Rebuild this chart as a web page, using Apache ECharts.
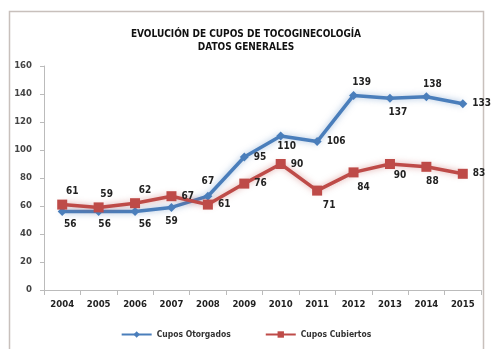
<!DOCTYPE html>
<html>
<head>
<meta charset="utf-8">
<script src="https://cdn.jsdelivr.net/npm/echarts@6/dist/echarts.min.js"></script>
<style>
  html, body { margin: 0; padding: 0; background: #fff; }
  #chart { width: 492px; height: 349px; }
</style>
</head>
<body>
<div id="chart"></div>
<script>
// Years on the horizontal axis
const years = ['2004', '2005', '2006', '2007', '2008', '2009', '2010', '2011', '2012', '2013', '2014', '2015'];
// Places granted per year
const otorgados = [56, 56, 56, 59, 67, 95, 110, 106, 139, 137, 138, 133];
// Places filled per year
const cubiertos = [61, 59, 62, 67, 61, 76, 90, 71, 84, 90, 88, 83];
// Label placement per point
const posOtorgados = ['bottom', 'bottom', 'bottom', 'bottom', 'top', 'right', 'bottom', 'right', 'top', 'bottom', 'top', 'right'];
const posCubiertos = ['top', 'top', 'top', 'right', 'right', 'right', 'right', 'bottom', 'bottom', 'bottom', 'bottom', 'right'];
const offOtorgados = [[8, -2], [6, -2], [10, -2], [0, 0], [0, 0], [0, 0], [6, -4], [0, 0], [8, 2], [8, 0], [6, 2], [0, 0]];
const offCubiertos = [[10, 2], [8, 2], [10, 2], [0, 0], [0, 0], [0, 0], [0, 0], [12, 0], [10, 0], [10, -4], [6, 0], [0, 0]];

const labelFont = { fontFamily: 'DejaVu Sans Condensed, Liberation Sans, sans-serif', fontWeight: 'bold', fontSize: 10, color: '#222' };

function withLabels(values, positions, offsets) {
  return values.map((v, i) => ({
    value: v,
    label: { position: positions[i], offset: offsets[i] }
  }));
}

const chart = echarts.init(document.getElementById('chart'));
chart.setOption({
  backgroundColor: '#fff',
  animation: false,
  title: {
    text: 'EVOLUCIÓN DE CUPOS DE TOCOGINECOLOGÍA\nDATOS GENERALES',
    left: 'center',
    top: 23,
    textStyle: {
      fontFamily: 'DejaVu Sans Condensed, Liberation Sans, sans-serif',
      fontSize: 10, fontWeight: 'bold', color: '#111', lineHeight: 13
    }
  },
  grid: { left: 44, right: 11, top: 66, bottom: 59 },
  xAxis: {
    type: 'category',
    data: years,
    boundaryGap: true,
    axisLine: { lineStyle: { color: '#bbb', width: 1 } },
    axisTick: { show: true, length: 5, lineStyle: { color: '#bbb' } },
    axisLabel: { ...labelFont, fontSize: 9.5, margin: 10 }
  },
  yAxis: {
    type: 'value',
    min: 0, max: 160, interval: 20,
    axisLine: { show: true, lineStyle: { color: '#bbb' } },
    axisTick: { show: true, length: 4, lineStyle: { color: '#bbb' } },
    splitLine: { show: false },
    axisLabel: { ...labelFont, fontSize: 9.5, color: '#444', margin: 12 }
  },
  legend: {
    bottom: 5,
    left: 'center',
    itemGap: 34,
    itemWidth: 30,
    itemHeight: 8,
    textStyle: { ...labelFont, fontSize: 8.5, color: '#333' },
    data: ['Cupos Otorgados', 'Cupos Cubiertos']
  },
  series: [
    {
      name: 'Cupos Otorgados',
      type: 'line',
      data: withLabels(otorgados, posOtorgados, offOtorgados),
      symbol: 'diamond',
      symbolSize: 9,
      itemStyle: { color: '#4A7EBB' },
      lineStyle: { width: 3.5, color: '#4A7EBB', shadowColor: 'rgba(74,126,187,0.5)', shadowBlur: 6 },
      label: { show: true, distance: 5, ...labelFont }
    },
    {
      name: 'Cupos Cubiertos',
      type: 'line',
      data: withLabels(cubiertos, posCubiertos, offCubiertos),
      symbol: 'rect',
      symbolSize: 10,
      itemStyle: { color: '#BE4B48' },
      lineStyle: { width: 3.5, color: '#BE4B48', shadowColor: 'rgba(190,75,72,0.5)', shadowBlur: 6 },
      label: { show: true, distance: 5, ...labelFont }
    }
  ],
  graphic: [
    {
      type: 'rect',
      shape: { x: 9.5, y: 11.5, width: 474, height: 340 },
      style: { fill: 'none', stroke: '#c8c0bc', lineWidth: 1.5 },
      silent: true
    }
  ]
});
</script>
</body>
</html>
